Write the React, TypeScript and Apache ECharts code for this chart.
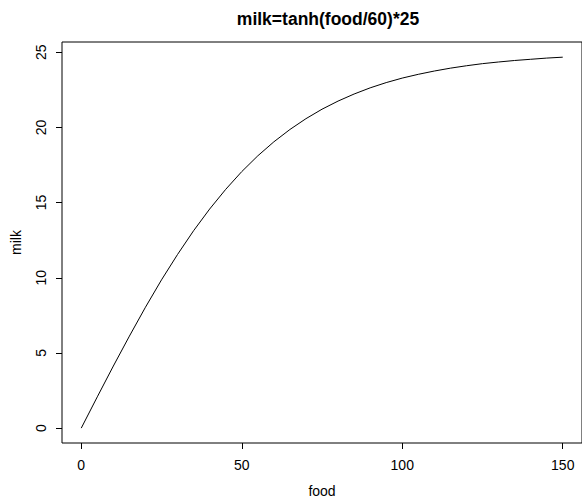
import React, { useEffect, useRef } from "react";
import * as echarts from "echarts";

const food = [0, 5, 10, 15, 20, 25, 30, 35, 40, 45, 50, 55, 60, 65, 70, 75, 80, 85, 90, 95, 100, 105, 110, 115, 120, 125, 130, 135, 140, 145, 150];
const milk = [0, 2.08, 4.13, 6.12, 8.04, 9.86, 11.55, 13.13, 14.57, 15.88, 17.06, 18.11, 19.04, 19.86, 20.58, 21.21, 21.75, 22.22, 22.63, 22.98, 23.28, 23.53, 23.75, 23.94, 24.1, 24.24, 24.35, 24.45, 24.53, 24.61, 24.67];
const xTicks = [0, 50, 100, 150];
const yTicks = [0, 5, 10, 15, 20, 25];
const titleText = "milk=tanh(food/60)*25";
const xName = "food";
const yName = "milk";

const FONT = "'Liberation Sans', Arial, Helvetica, sans-serif";

export default function App() {
  const ref = useRef<HTMLDivElement>(null);
  useEffect(() => {
    if (!ref.current) return;
    const chart = echarts.init(ref.current, null, { renderer: "svg" });
    chart.setOption({
      animation: false,
      backgroundColor: "#ffffff",
      title: {
        text: titleText,
        left: 323,
        top: 5,
        textAlign: "center",
        textStyle: { fontFamily: FONT, fontWeight: "bold", fontSize: 17.5, color: "#000" },
      },
      grid: {
        left: 62,
        top: 42,
        width: 522,
        height: 407,
        show: true,
        borderColor: "#000",
        borderWidth: 1,
        backgroundColor: "transparent",
        containLabel: false,
      },
      xAxis: {
        type: "value",
        min: -6,
        max: 156,
        position: "bottom",
        name: xName,
        nameLocation: "middle",
        nameGap: 41,
        nameTextStyle: { fontFamily: FONT, fontSize: 14, color: "#000" },
        axisLine: { show: false, onZero: false },
        splitLine: { show: false },
        axisTick: { show: true, inside: false, length: 6, lineStyle: { color: "#000" }, customValues: xTicks },
        axisLabel: { fontFamily: FONT, fontSize: 14, color: "#000", margin: 15, customValues: xTicks },
      },
      yAxis: {
        type: "value",
        min: -0.99,
        max: 25.68,
        position: "left",
        name: yName,
        nameLocation: "middle",
        nameGap: 39,
        nameRotate: 90,
        nameTextStyle: { fontFamily: FONT, fontSize: 14, color: "#000" },
        axisLine: { show: false, onZero: false },
        splitLine: { show: false },
        axisTick: { show: true, inside: false, length: 6, lineStyle: { color: "#000" }, customValues: yTicks },
        axisLabel: { fontFamily: FONT, fontSize: 14, color: "#000", margin: 14, rotate: 90, customValues: yTicks },
      },
      series: [
        {
          type: "line",
          data: food.map((f, i) => [f, milk[i]]),
          showSymbol: false,
          symbol: "none",
          lineStyle: { color: "#000", width: 1 },
          silent: true,
        },
      ],
    });
    return () => chart.dispose();
  }, []);
  return <div ref={ref} style={{ position: "fixed", left: 0, top: 0, width: 582, height: 503 }} />;
}
